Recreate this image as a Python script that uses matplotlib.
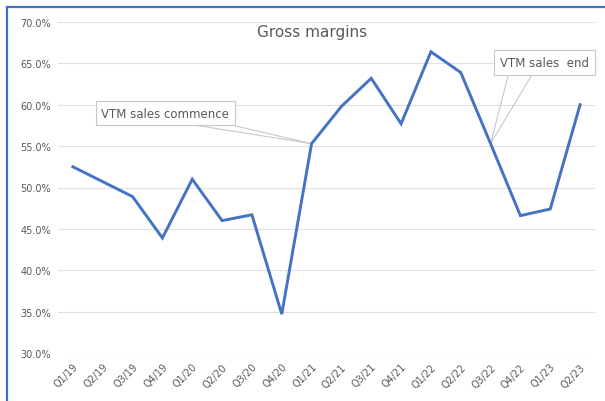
import matplotlib.pyplot as plt
from matplotlib.ticker import FuncFormatter

quarters = ["Q1/19", "Q2/19", "Q3/19", "Q4/19", "Q1/20", "Q2/20", "Q3/20", "Q4/20",
            "Q1/21", "Q2/21", "Q3/21", "Q4/21", "Q1/22", "Q2/22", "Q3/22", "Q4/22",
            "Q1/23", "Q2/23"]
margins = [52.5, 50.7, 48.9, 43.9, 51.0, 46.0, 46.7, 34.7,
           55.3, 59.8, 63.2, 57.7, 66.4, 63.9, 55.3, 46.6,
           47.4, 60.0]

grey = "#595959"
blue = "#4472C4"

fig = plt.figure(figsize=(6.05, 4.02), dpi=100)
ax = fig.add_axes([58 / 605, 48 / 402, 537 / 605, 331 / 402])

x = list(range(len(quarters)))
ax.plot(x, margins, color=blue, lw=2.1, solid_joinstyle="miter", zorder=3)

ax.set_xlim(-0.5, len(quarters) - 0.5)
ax.set_ylim(30, 70)
ax.set_yticks([30, 35, 40, 45, 50, 55, 60, 65, 70])
ax.yaxis.set_major_formatter(FuncFormatter(lambda v, p: f"{v:.1f}%"))
ax.set_xticks(x)
ax.set_xticklabels(quarters, rotation=45, ha="right", rotation_mode="anchor")
ax.tick_params(length=0, labelsize=7, colors=grey, pad=5)
ax.tick_params(axis="x", pad=6)
ax.grid(axis="y", color="#e0e0e0", lw=0.8)
ax.set_axisbelow(True)
for s in ax.spines.values():
    s.set_visible(False)

ax.text(8.0, 68.8, "Gross margins", color=grey, fontsize=11, ha="center", va="center")

# callouts with a two-line leader
box = dict(boxstyle="square,pad=0.5", fc="white", ec="#c8c8c8", lw=0.8)
ax.text(3.1, 59.0, "VTM sales commence", color=grey, fontsize=8.5,
        ha="center", va="center", bbox=box, zorder=4)
for bx in (3.45, 4.9):
    ax.annotate("", xy=(8, margins[8]), xytext=(bx, 57.9),
                arrowprops=dict(arrowstyle="-", color="#c8c8c8", lw=0.8,
                                shrinkA=0, shrinkB=0), zorder=2)

ax.text(15.8, 65.1, "VTM sales  end", color=grey, fontsize=8.5,
        ha="center", va="center", bbox=box, zorder=4)
for bx in (14.6, 15.4):
    ax.annotate("", xy=(14, margins[14]), xytext=(bx, 63.7),
                arrowprops=dict(arrowstyle="-", color="#c8c8c8", lw=0.8,
                                shrinkA=0, shrinkB=0), zorder=2)

# outer frame on the left and top
fig.add_artist(plt.Line2D([7 / 605, 7 / 605], [0, 1 - 8 / 402], color=blue, lw=1.6))
fig.add_artist(plt.Line2D([7 / 605, 1], [1 - 8 / 402, 1 - 8 / 402], color=blue, lw=1.6))

fig.savefig("out.png", dpi=100)
